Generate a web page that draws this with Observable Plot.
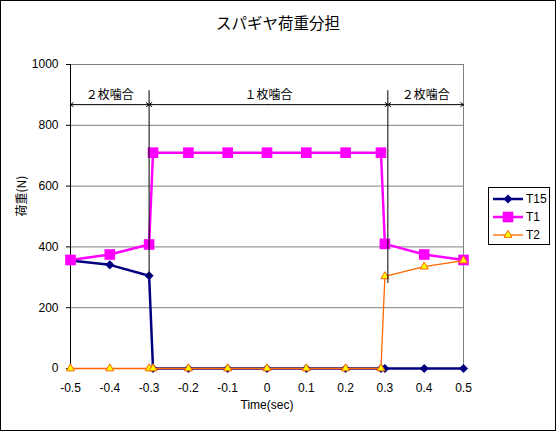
<!DOCTYPE html>
<html>
<head>
<meta charset="utf-8">
<script src="https://cdn.jsdelivr.net/npm/d3@7"></script>
<script src="https://cdn.jsdelivr.net/npm/@observablehq/plot@0.6"></script>
<style>
  body { margin: 0; background: white; }
  #wrap { position: relative; width: 556px; height: 431px; font-family: "Liberation Sans", "Noto Sans CJK JP", sans-serif; }
  #border { position: absolute; left: 0; top: 0; width: 556px; height: 431px; box-sizing: border-box; border: 1px solid black; pointer-events: none; }
  #title { position: absolute; left: 0; width: 556px; top: 11px; text-align: center; font-family: "Noto Sans CJK JP", sans-serif; font-size: 15.5px; }
  #legend { position: absolute; left: 488px; top: 187px; width: 62px; height: 58px; box-sizing: border-box; border: 1px solid black; background: white; }
  #legend svg { display: block; }
</style>
</head>
<body>
<div id="wrap">
  <div id="title">スパギヤ荷重分担</div>
  <div id="legend"></div>
  <div id="border"></div>
</div>
<script>
// ---- data ----
const xs  = [-0.5, -0.4, -0.3, -0.29, -0.2, -0.1, 0, 0.1, 0.2, 0.29, 0.3, 0.4, 0.5];
const t15 = [355, 341, 305, 0, 0, 0, 0, 0, 0, 0, 0, 0, 0];
const t1  = [357, 375, 408, 710, 710, 710, 710, 710, 710, 710, 410, 375, 357];
const t2  = [0, 0, 0, 0, 0, 0, 0, 0, 0, 0, 303, 335, 355];
const seriesNames = ["T15", "T1", "T2"];
const xTicks = [-0.5, -0.4, -0.3, -0.2, -0.1, 0, 0.1, 0.2, 0.3, 0.4, 0.5];
const yTicks = [0, 200, 400, 600, 800, 1000];
// annotation (hand-drawn zones)
const zoneBounds = [-0.5, -0.3, 0.3075, 0.5];
const zoneLabels = ["２枚噛合", "１枚噛合", "２枚噛合"];
const zoneArrowY = 868;
const zoneLabelY = 898;
const dividerTop = 914;
const dividerBottoms = [300, 280];

// ---- build ----
const seriesValues = [t15, t1, t2];
const rows = seriesNames.flatMap((s, i) => xs.map((x, j) => ({series: s, x, y: seriesValues[i][j]})));
const bySeries = s => rows.filter(d => d.series === s);

const zones = zoneLabels.map((label, i) => {
  const a = zoneBounds[i], b = zoneBounds[i + 1];
  return {label, a, b, mid: (a + b) / 2};
});
const dividers = [zoneBounds[1], zoneBounds[2]].map((x, i) => ({x, y1: dividerBottoms[i], y2: dividerTop}));

const styleMap = {
  T15: {stroke: "#000080", width: 2.5, symbol: "diamond2", r: 4.1, fill: "#000080", dotStroke: "none"},
  T1:  {stroke: "#FF00FF", width: 2.5, symbol: "square", r: 6.0, fill: "#FF00FF", dotStroke: "none"},
  T2:  {stroke: "#FF6600", width: 1.3, symbol: "triangle", r: 3.0, fill: "#FFFF00", dotStroke: "#FF6600"}
};

const seriesMarks = seriesNames.flatMap(s => {
  const st = styleMap[s];
  return [
    Plot.line(bySeries(s), {x: "x", y: "y", stroke: st.stroke, strokeWidth: st.width}),
    Plot.dot(bySeries(s), {x: "x", y: "y", symbol: st.symbol, r: st.r, fill: st.fill, stroke: st.dotStroke, strokeWidth: 1})
  ];
});

const chart = Plot.plot({
  width: 556,
  height: 431,
  marginLeft: 70,
  marginRight: 93,
  marginTop: 64,
  marginBottom: 63,
  style: {fontFamily: '"Liberation Sans", "Noto Sans CJK JP", sans-serif', fontSize: "12px", background: "white", color: "black"},
  x: {domain: [-0.5, 0.5]},
  y: {domain: [0, 1000]},
  marks: [
    Plot.ruleY(yTicks.filter(v => v > 0), {stroke: "#808080", strokeWidth: 1}),
    Plot.frame({stroke: "#808080"}),
    Plot.ruleX([-0.5], {stroke: "black"}),
    Plot.ruleY([0], {stroke: "black"}),
    Plot.axisY({ticks: yTicks, tickSize: 4, tickPadding: 8, label: null, tickFormat: d => String(d), fontSize: 12}),
    Plot.axisX({ticks: xTicks, tickSize: 0, tickPadding: 15, label: null, tickFormat: d => d === 0 ? "0" : d.toFixed(1), fontSize: 12}),
    ...seriesMarks,
    Plot.ruleX(dividers, {x: "x", y1: "y1", y2: "y2", stroke: "black", strokeWidth: 1}),
    Plot.arrow(zones, {x1: "mid", x2: "a", y1: zoneArrowY, y2: zoneArrowY, stroke: "black", strokeWidth: 1, headLength: 5, headAngle: 70}),
    Plot.arrow(zones, {x1: "mid", x2: "b", y1: zoneArrowY, y2: zoneArrowY, stroke: "black", strokeWidth: 1, headLength: 5, headAngle: 70}),
    Plot.text(zones, {x: "mid", y: zoneLabelY, text: "label", fontFamily: '"Noto Sans CJK JP", sans-serif', fontSize: 12}),
    Plot.text(["荷重(N)"], {frameAnchor: "left", dx: -48, rotate: -90, fontFamily: '"Noto Sans CJK JP", sans-serif', fontSize: 12}),
    Plot.text(["Time(sec)"], {frameAnchor: "bottom", dy: 40, fontSize: 12})
  ]
});
chart.style.position = "absolute";
chart.style.left = "0px";
chart.style.top = "0px";
const wrap = document.getElementById("wrap");
wrap.insertBefore(chart, wrap.firstChild);

// ---- legend ----
const legend = d3.select("#legend").append("svg").attr("width", 60).attr("height", 56);
const symMap = {diamond2: d3.symbolDiamond2, square: d3.symbolSquare, triangle: d3.symbolTriangle};
seriesNames.forEach((s, i) => {
  const st = styleMap[s];
  const cy = 11 + i * 18;
  const g = legend.append("g");
  g.append("line").attr("x1", 4).attr("x2", 34).attr("y1", cy).attr("y2", cy)
    .attr("stroke", st.stroke).attr("stroke-width", st.width);
  g.append("path").attr("transform", `translate(19,${cy})`)
    .attr("d", d3.symbol(symMap[st.symbol], Math.PI * st.r * st.r)())
    .attr("fill", st.fill).attr("stroke", st.dotStroke === "none" ? null : st.dotStroke);
  g.append("text").attr("x", 37).attr("y", cy).attr("dy", "0.35em")
    .attr("font-family", '"Liberation Sans", sans-serif').attr("font-size", 12).text(s);
});
</script>
</body>
</html>
